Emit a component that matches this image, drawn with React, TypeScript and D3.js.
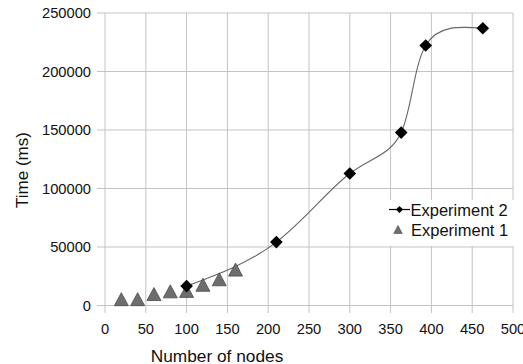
import React from "react";
import * as d3 from "d3";

const exp2Nodes = [100, 210, 300, 363, 393, 463];
const exp2Time = [16600, 54200, 112800, 147800, 222200, 237000];
const exp1Nodes = [20, 40, 60, 80, 100, 120, 140, 160];
const exp1Time = [5400, 5400, 9800, 12100, 12500, 17700, 22400, 30700];
const xTicks = [0, 50, 100, 150, 200, 250, 300, 350, 400, 450, 500];
const yTicks = [0, 50000, 100000, 150000, 200000, 250000];
const seriesNames = ["Experiment 2", "Experiment 1"];

const W = 523;
const H = 364;
const FONT = "'Liberation Sans', Arial, sans-serif";

export default function App() {
  const x = d3.scaleLinear().domain([0, 500]).range([105, 513]);
  const y = d3.scaleLinear().domain([0, 250000]).range([305.5, 13]);
  const grid = "#c3c3c3";

  const exp2 = exp2Nodes.map((n, i) => [n, exp2Time[i]] as [number, number]);
  const exp1 = exp1Nodes.map((n, i) => [n, exp1Time[i]] as [number, number]);
  const line = d3
    .line<[number, number]>()
    .x((d) => x(d[0]))
    .y((d) => y(d[1]))
    .curve(d3.curveNatural);

  const diamond = d3.symbol().type(d3.symbolSquare).size(80)();
  const tri = (cx: number, cy: number, w: number, h: number) =>
    `M${cx},${cy - h / 2}L${cx + w / 2},${cy + h / 2}L${cx - w / 2},${cy + h / 2}Z`;

  return (
    <svg
      width={W}
      height={H}
      style={{ position: "absolute", left: 0, top: 0, background: "#fff" }}
      fontFamily={FONT}
    >
      <rect x={0} y={0} width={W} height={H} fill="#fff" />
      {/* grid */}
      {xTicks.map((t) => (
        <line key={"gx" + t} x1={x(t)} x2={x(t)} y1={y(250000)} y2={313} stroke={grid} strokeWidth={1} />
      ))}
      {yTicks.map((t) => (
        <line key={"gy" + t} x1={97} x2={x(500)} y1={y(t)} y2={y(t)} stroke={grid} strokeWidth={1} />
      ))}
      {/* tick labels */}
      {yTicks.map((t) => (
        <text key={"ty" + t} x={91} y={y(t) + 5} textAnchor="end" fontSize={14.7} fill="#111">
          {t}
        </text>
      ))}
      {xTicks.map((t) => (
        <text key={"tx" + t} x={x(t)} y={334} textAnchor="middle" fontSize={14.7} fill="#111">
          {t}
        </text>
      ))}
      {/* titles */}
      <text x={217} y={362} textAnchor="middle" fontSize={17.3} fill="#111">
        Number of nodes
      </text>
      <text
        transform={`translate(28,170) rotate(-90)`}
        textAnchor="middle"
        fontSize={17}
        fill="#111"
      >
        Time (ms)
      </text>
      {/* experiment 2 line */}
      <path d={line(exp2) || ""} fill="none" stroke="#666" strokeWidth={1.1} />
      {/* experiment 1 triangles */}
      {exp1.map((d, i) => (
        <path
          key={"t" + i}
          d={tri(x(d[0]), y(d[1]), 14, 13)}
          fill="#6e6e6e"
          stroke="#4a4a4a"
          strokeWidth={0.8}
        />
      ))}
      {/* experiment 2 diamonds */}
      {exp2.map((d, i) => (
        <path
          key={"d" + i}
          d={diamond || ""}
          transform={`translate(${x(d[0])},${y(d[1])}) rotate(45)`}
          fill="#000"
        />
      ))}
      {/* legend */}
      <rect x={386} y={200} width={131} height={46} fill="#fff" />
      <line x1={389} x2={410} y1={209.5} y2={209.5} stroke="#000" strokeWidth={1.2} />
      <path d={d3.symbol().type(d3.symbolSquare).size(26)() || ""} transform="translate(399.5,209.5) rotate(45)" fill="#000" />
      <text x={410.5} y={215.5} fontSize={16.5} fill="#111">
        {seriesNames[0]}
      </text>
      <path d={tri(398, 229.5, 8.5, 8)} fill="#6e6e6e" stroke="#4a4a4a" strokeWidth={0.6} />
      <text x={411} y={235.5} fontSize={16.5} fill="#111">
        {seriesNames[1]}
      </text>
    </svg>
  );
}
